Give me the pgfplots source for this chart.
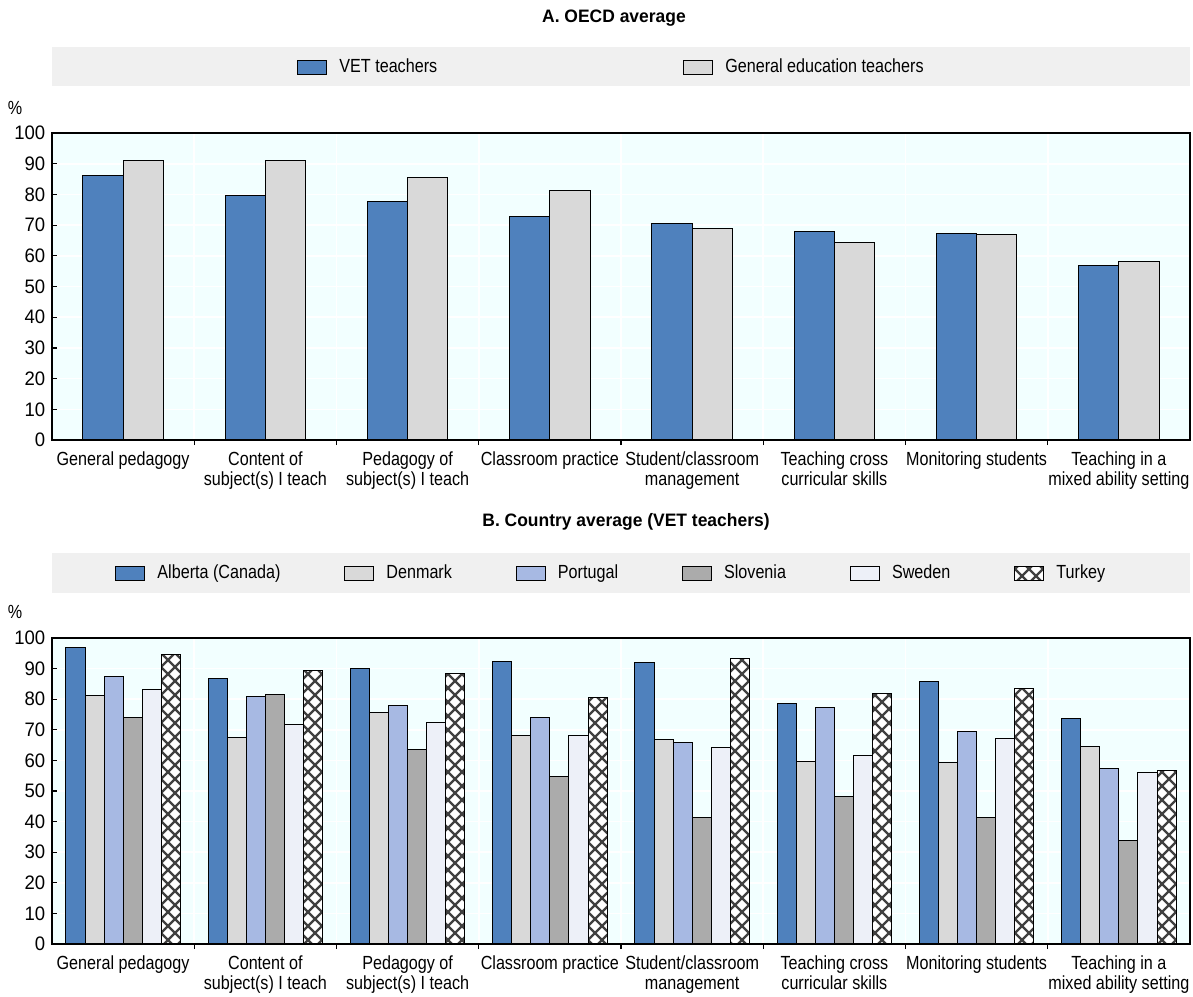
\documentclass[border=0pt]{standalone}
\usepackage{fontspec}
\setmainfont{Liberation Sans}[FakeStretch=0.85]
\newfontfamily\titlefont{Liberation Sans}[FakeStretch=0.97]
\newfontfamily\numfont{Liberation Sans}[FakeStretch=0.95]
\usepackage{pgfplots}
\pgfplotsset{compat=1.18}
\usetikzlibrary{patterns}
\definecolor{vetblue}{HTML}{4F81BD}
\definecolor{gengray}{HTML}{D9D9D9}
\definecolor{portblue}{HTML}{A7B9E3}
\definecolor{slogray}{HTML}{ABABAB}
\definecolor{swewhite}{HTML}{EDF0F8}
\definecolor{bgcyan}{HTML}{F2FFFF}
\definecolor{legbg}{HTML}{F0F0F0}
\pgfdeclarepatternformonly{bigcross}{\pgfqpoint{-1pt}{-1pt}}{\pgfqpoint{8pt}{8pt}}{\pgfqpoint{7pt}{7pt}}{%
  \pgfsetlinewidth{1.1pt}%
  \pgfpathmoveto{\pgfqpoint{0pt}{0pt}}\pgfpathlineto{\pgfqpoint{7pt}{7pt}}%
  \pgfpathmoveto{\pgfqpoint{0pt}{7pt}}\pgfpathlineto{\pgfqpoint{7pt}{0pt}}%
  \pgfusepath{stroke}}
\pgfplotsset{
  oecd/.style={
    scale only axis, width=569pt,
    xmin=-0.5, xmax=7.5, ymin=0, ymax=100,
    ytick={0,10,...,100}, xtick={0,...,7}, minor xtick={0.5,1.5,...,6.5},
    major x tick style={draw=none},
    tick pos=left, tick align=inside,
    major tick length=2.5pt, minor tick length=2.5pt,
    tick style={black, line width=0.6pt},
    axis background/.style={fill=bgcyan},
    ymajorgrids, xminorgrids, grid style={white, line width=0.8pt},
    axis line style={line width=1pt},
    /pgf/number format/assume math mode=true,
    tick label style={font=\fontsize{9.5}{10}\selectfont},
    yticklabel style={font=\numfont\fontsize{9.75}{10}\selectfont},
    xticklabel style={align=center},
    xticklabels={General pedagogy,{Content of\\subject(s) I teach},{Pedagogy of\\subject(s) I teach},Classroom practice,{Student/classroom\\management},{Teaching cross\\curricular skills},Monitoring students,{Teaching in a\\mixed ability setting}},
    legend style={draw=none, fill=none, inner sep=0pt, font=\fontsize{9.5}{10}\selectfont,
      legend cell align=left,
      /tikz/every odd column/.append style={column sep=4pt}},
  },
  barsty/.style={
    every axis plot/.append style={draw=black, line width=0.5pt,
      legend image code/.code={\draw[##1,line width=0.5pt] (0pt,-3.5pt) rectangle (14.5pt,3.5pt);}},
  }
}
\begin{document}
\fontsize{9.5}{10}\selectfont
\begin{tikzpicture}
\path[use as bounding box] (0,0) rectangle (596.5pt,-498pt);
\fill[legbg] (26pt,-23.5pt) rectangle (595pt,-43pt);
\fill[legbg] (26pt,-276.5pt) rectangle (595pt,-296.5pt);
\node[font=\titlefont\bfseries\fontsize{9}{10}\selectfont] at (307pt,-9pt) {A. OECD average};
\node[font=\titlefont\bfseries\fontsize{9}{10}\selectfont] at (313pt,-261pt) {B. Country average (VET teachers)};
\node at (7.5pt,-54pt) {\%};
\node at (7.5pt,-306pt) {\%};
\begin{axis}[oecd, at={(26pt,-220pt)}, anchor=south west, height=153.5pt,
  ybar=0pt, bar width=0.283, barsty,
  legend columns=2,
  legend style={at={(0.2153,1.215)}, anchor=west,
    /tikz/every even column/.append style={column sep=121pt}}]
\addplot[fill=vetblue] coordinates {(0,86) (1,79.5) (2,77.7) (3,72.7) (4,70.4) (5,67.8) (6,67.4) (7,56.8)};
\addplot[fill=gengray] coordinates {(0,91.1) (1,91.2) (2,85.6) (3,81.4) (4,68.9) (5,64.4) (6,66.9) (7,58)};
\legend{VET teachers, General education teachers}
\draw[line width=1pt] (rel axis cs:0,0) -- (rel axis cs:1,0);
\end{axis}
\begin{axis}[oecd, at={(26pt,-472pt)}, anchor=south west, height=153pt,
  ybar=0pt, bar width=0.134, barsty,
  legend columns=6,
  legend style={at={(0.0554,1.212)}, anchor=west,
    /tikz/every even column/.append style={column sep=30pt}}]
\addplot[fill=vetblue] coordinates {(0,97) (1,86.7) (2,90.2) (3,92.2) (4,92) (5,78.7) (6,85.8) (7,73.8)};
\addplot[fill=gengray] coordinates {(0,81.2) (1,67.5) (2,75.6) (3,68.3) (4,66.7) (5,59.7) (6,59.2) (7,64.7)};
\addplot[fill=portblue] coordinates {(0,87.4) (1,81) (2,77.8) (3,73.9) (4,65.8) (5,77.3) (6,69.6) (7,57.5)};
\addplot[fill=slogray] coordinates {(0,73.9) (1,81.5) (2,63.5) (3,54.6) (4,41.5) (5,48.2) (6,41.3) (7,33.7)};
\addplot[fill=swewhite] coordinates {(0,83.2) (1,71.7) (2,72.3) (3,68) (4,64.2) (5,61.7) (6,67.2) (7,56)};
\addplot[fill=white, postaction={pattern=bigcross, pattern color=black!75}] coordinates {(0,94.7) (1,89.4) (2,88.3) (3,80.4) (4,93.2) (5,81.9) (6,83.4) (7,56.6)};
\legend{Alberta (Canada), Denmark, Portugal, Slovenia, Sweden, Turkey}
\draw[line width=1pt] (rel axis cs:0,0) -- (rel axis cs:1,0);
\end{axis}
\end{tikzpicture}
\end{document}
